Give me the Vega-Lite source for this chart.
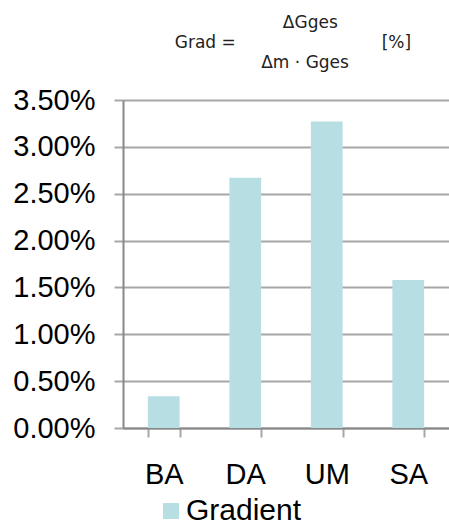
{
  "$schema": "https://vega.github.io/schema/vega-lite/v6.json",
  "autosize": "none",
  "padding": {"left": 123, "top": 100, "right": 0, "bottom": 97},
  "width": 326,
  "height": 328,
  "background": "white",
  "title": {
    "text": [
      "\u200b\u00a0\u00a0\u00a0\u00a0\u00a0\u00a0\u00a0\u00a0\u00a0\u00a0\u00a0\u00a0\u00a0\u00a0\u00a0\u00a0\u00a0\u00a0\u00a0\u00a0ΔGges",
      "Grad =\u00a0\u00a0\u00a0\u00a0\u00a0\u00a0\u00a0\u00a0\u00a0\u00a0\u00a0\u00a0\u00a0\u00a0\u00a0\u00a0\u00a0\u00a0\u00a0\u00a0\u00a0\u00a0\u00a0\u00a0\u00a0\u00a0\u00a0[%]",
      "\u200b\u00a0\u00a0\u00a0\u00a0\u00a0\u00a0\u00a0\u00a0\u00a0\u00a0\u00a0\u00a0\u00a0\u00a0\u00a0\u00a0Δm · Gges"
    ],
    "anchor": "start",
    "align": "left",
    "dx": 162,
    "offset": 14,
    "font": "DejaVu Sans",
    "fontSize": 17,
    "fontWeight": "normal",
    "lineHeight": 20,
    "color": "#222222"
  },
  "data": {
    "values": [
      {"cat": "BA", "value": 0.0034, "series": "Gradient"},
      {"cat": "DA", "value": 0.0267, "series": "Gradient"},
      {"cat": "UM", "value": 0.0327, "series": "Gradient"},
      {"cat": "SA", "value": 0.0158, "series": "Gradient"}
    ]
  },
  "mark": {"type": "bar"},
  "encoding": {
    "x": {
      "field": "cat",
      "type": "nominal",
      "sort": null,
      "scale": {"paddingInner": 0.61, "paddingOuter": 0.305},
      "axis": {
        "title": null,
        "labelAngle": 0,
        "labelFont": "Liberation Sans",
        "labelFontSize": 29,
        "labelColor": "#000000",
        "labelPadding": 23,
        "domainColor": "#888888",
        "domainWidth": 2,
        "tickColor": "#A6A6A6",
        "tickWidth": 2,
        "tickSize": 9,
        "tickBand": "extent",
        "grid": false
      }
    },
    "y": {
      "field": "value",
      "type": "quantitative",
      "scale": {"domain": [0, 0.035], "nice": false},
      "axis": {
        "title": null,
        "format": ".2%",
        "values": [0, 0.005, 0.01, 0.015, 0.02, 0.025, 0.03, 0.035],
        "labelFont": "Liberation Sans",
        "labelFontSize": 29,
        "labelColor": "#000000",
        "labelPadding": 19,
        "domainColor": "#888888",
        "domainWidth": 2,
        "tickColor": "#A6A6A6",
        "tickWidth": 2,
        "tickSize": 9,
        "gridColor": "#A6A6A6",
        "gridWidth": 2
      }
    },
    "color": {
      "field": "series",
      "type": "nominal",
      "scale": {"range": ["#B7DFE3"]},
      "legend": {
        "title": null,
        "orient": "none",
        "legendX": 33,
        "legendY": 396,
        "padding": 0,
        "symbolType": "square",
        "symbolSize": 256,
        "symbolStrokeWidth": 0,
        "labelFont": "Liberation Sans",
        "labelFontSize": 30,
        "labelColor": "#000000",
        "labelOffset": 0
      }
    }
  },
  "config": {
    "view": {"stroke": null}
  }
}
